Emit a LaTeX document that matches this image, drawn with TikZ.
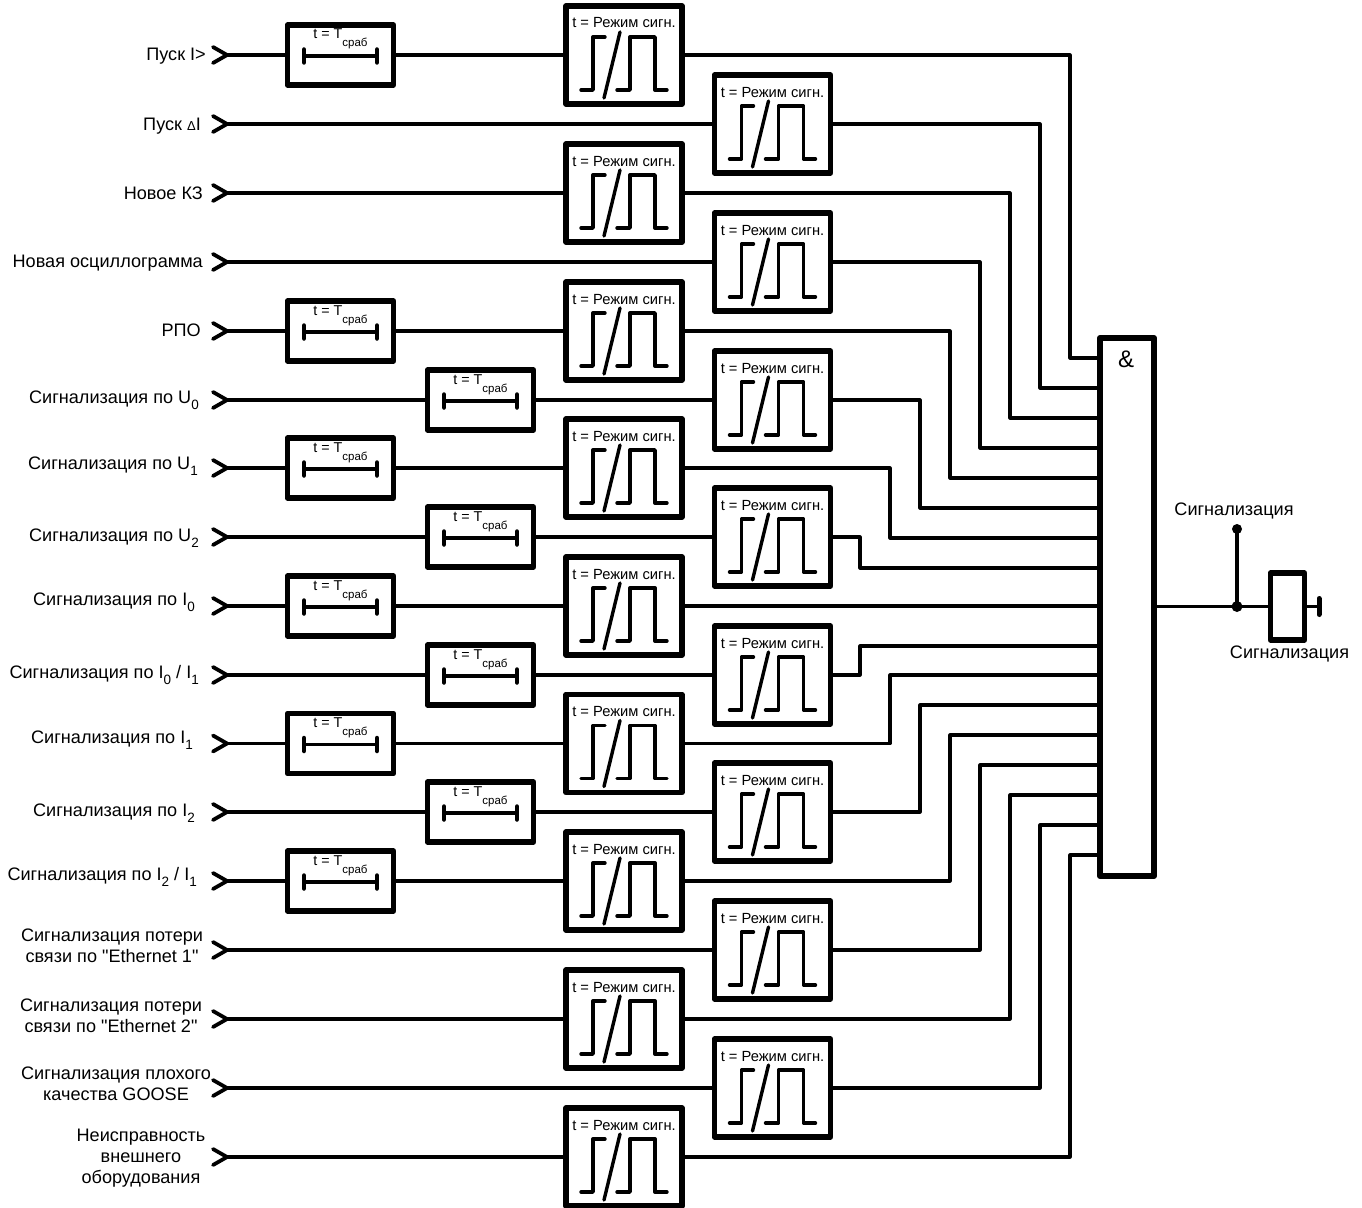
\documentclass[tikz,border=0pt]{standalone}
\usepackage{fontspec}
\setmainfont{Liberation Sans}[Ligatures=TeXOff]
\newcommand{\Sb}[1]{\raisebox{-6.5pt}{\fontsize{13.5}{14}\selectfont #1}}
\newcommand{\Fs}[1]{\fontsize{#1}{21}\selectfont}
\begin{document}
\begin{tikzpicture}[x=1pt,y=-1pt,line join=round,
  wire/.style={line width=3.2pt,line cap=round},
  chev/.style={line width=3.8pt,line cap=round},
  pulsebox/.style={draw,line width=5.5pt,minimum width=116pt,minimum height=98pt,inner sep=0pt},
  timerbox/.style={draw,line width=5.5pt,minimum width=106pt,minimum height=60pt,inner sep=0pt},
  sym/.style={line width=3.4pt,line cap=round},
  lab/.style={inner sep=0pt,font=\Fs{18.1}},
  rlab/.style={lab,anchor=base east},
  mlab/.style={lab,align=center,anchor=center},
  boxtxt/.style={inner sep=0pt,anchor=base,font=\Fs{14.7}},
  tmtxt/.style={inner sep=0pt,anchor=base,font=\Fs{14.3}}]
\useasboundingbox (0,0) rectangle (1362,1207);
% input points
\foreach \i/\y in {1/55,2/124,3/193,4/262,5/331,6/400,7/468,8/537,9/606,10/675,11/743.5,12/812,13/881,14/950,15/1019,16/1088,17/1157}{
  \coordinate (in\i) at (227,\y);
  \draw[chev] (in\i) +(-14,-8) -- (in\i) -- +(-14,8);
}
\coordinate (colP) at (624,0);
\coordinate (colQ) at (772.5,0);
\coordinate (colA) at (340.5,0);
\coordinate (colB) at (480.5,0);
% pulse boxes
\foreach \i/\c in {1/colP,2/colQ,3/colP,4/colQ,5/colP,6/colQ,7/colP,8/colQ,9/colP,10/colQ,11/colP,12/colQ,13/colP,14/colQ,15/colP,16/colQ,17/colP}{
  \node[pulsebox] (p\i) at (in\i -| \c) {};
  \node[boxtxt] (pt\i) at ([shift={(0,-27)}]p\i.center) {t = Режим сигн.};
  \draw[sym] (p\i.center) +(-43,35) -- +(-31,35) -- +(-31,-18) -- +(-19,-18);
  \draw[sym] (p\i.center) +(-20,43) -- +(-4,-23);
  \draw[sym] (p\i.center) +(-7,35) -- +(6,35) -- +(6,-18) -- +(31,-18) -- +(31,35) -- +(43,35);
}
% timer boxes
\foreach \i/\c in {1/colA,5/colA,6/colB,7/colA,8/colB,9/colA,10/colB,11/colA,12/colB,13/colA}{
  \node[timerbox] (t\i) at (in\i -| \c) {};
  \node[tmtxt] (tt\i) at ([shift={(0,-16)}]t\i.center) {t = T\raisebox{-8pt}{\fontsize{11.5}{12}\selectfont сраб}};
  \draw[sym] (t\i.center) +(-36.5,1) -- +(36.5,1);
  \draw[line width=4.5pt,line cap=round] (t\i.center) +(-36.5,-5.5) -- +(-36.5,7.5);
  \draw[line width=4.5pt,line cap=round] (t\i.center) +(36.5,-5.5) -- +(36.5,7.5);
  \draw[wire] (in\i) -- (t\i.west);
  \draw[wire] (t\i.east) -- (p\i.west);
}
\foreach \i in {2,3,4,14,15,16,17}{
  \draw[wire] (in\i) -- (p\i.west);
}
% AND block
\node[draw,line width=6pt,minimum width=54pt,minimum height=538pt,inner sep=0pt] (and) at (1127,607) {};
\node[inner sep=0pt,anchor=base,font=\Fs{24}] (andtxt) at (1126,367) {\&};
% routes into the AND block
\foreach \i/\x/\y in {1/1070/358,2/1040/388,3/1010/418,4/980/448,5/950/478,6/920/508,7/890/538,8/860/568,10/860/646,11/890/675,12/920/705,13/950/735,14/980/765,15/1010/795,16/1040/825,17/1070/855}{
  \coordinate (v\i) at (\x,\y);
  \draw[wire] (p\i.east) -| (v\i) -- (v\i -| and.west);
}
\draw[wire] (p9.east) -- (p9.east -| and.west);
% output
\node[draw,line width=5.5pt,minimum width=34pt,minimum height=67pt,inner sep=0pt] (out) at (1287.5,606.5) {};
\coordinate (jn) at (1237,606.5);
\coordinate (top) at (1237,529);
\draw[line width=2.8pt] (and.east |- jn) -- (out.west);
\draw[wire] (top) -- (jn);
\fill (jn) circle (5.5);
\fill (top) circle (5);
\coordinate (stem) at (1319,606.5);
\draw[wire] (out.east) -- (stem);
\draw[line width=5pt,line cap=round] (stem) +(0,-8) -- +(0,8);
\node[lab,anchor=base] (o1) at (1234,515) {Сигнализация};
\node[lab,anchor=base] (o2) at (1289.5,658) {Сигнализация};
% input labels
\node[rlab] (l1) at (206,60) {Пуск I>};
\node[rlab] (l2) at (201,130) {Пуск \fontsize{13}{13}\selectfont Δ\Fs{18.1}I};
\node[rlab] (l3) at (203,199) {Новое КЗ};
\node[rlab] (l4) at (203,267) {Новая осциллограмма};
\node[rlab] (l5) at (201,336) {РПО};
\node[rlab] (l6) at (199,403) {Сигнализация по U\Sb{0}};
\node[rlab] (l7) at (198,469) {Сигнализация по U\Sb{1}};
\node[rlab] (l8) at (199,541) {Сигнализация по U\Sb{2}};
\node[rlab] (l9) at (195,605) {Сигнализация по I\Sb{0}};
\node[rlab] (l10) at (199,678) {Сигнализация по I\Sb{0} / I\Sb{1}};
\node[rlab] (l11) at (193,743) {Сигнализация по I\Sb{1}};
\node[rlab] (l12) at (195,816) {Сигнализация по I\Sb{2}};
\node[rlab] (l13) at (197,880) {Сигнализация по I\Sb{2} / I\Sb{1}};
\node[mlab] (l14) at (112,946) {Сигнализация потери\\связи по "Ethernet 1"};
\node[mlab] (l15) at (111,1015.5) {Сигнализация потери\\связи по "Ethernet 2"};
\node[mlab] (l16) at (116,1083.5) {Сигнализация плохого\\качества GOOSE};
\node[mlab] (l17) at (141,1158) {Неисправность\\внешнего\\оборудования};
\end{tikzpicture}
\end{document}
